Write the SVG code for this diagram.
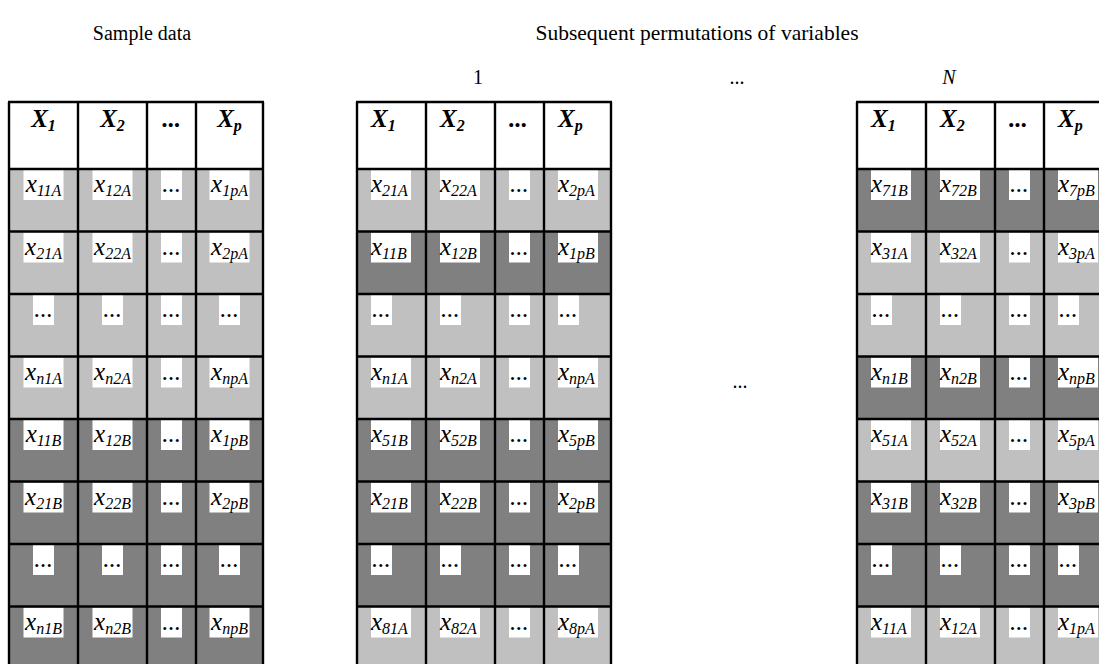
<svg xmlns="http://www.w3.org/2000/svg" width="1099" height="664" viewBox="0 0 1099 664">
<style>
.bg{fill:#ffffff}
.L{fill:#c0c0c0}
.D{fill:#808080}
.w{fill:#ffffff}
.m{font-family:"Liberation Serif",serif;font-style:italic;font-size:25px;fill:#000}
.s{font-size:16px}
.h{font-family:"Liberation Serif",serif;font-style:italic;font-weight:bold;font-size:25px;fill:#000}
.t{font-family:"Liberation Serif",serif;font-size:20px;fill:#000}
.c{text-anchor:middle}
.g{fill:none;stroke:#000;stroke-width:2.4}
</style>
<rect class="bg" x="0" y="0" width="1099" height="664"/>
<g id="titles">
<text class="t c" x="142" y="40">Sample data</text>
<text class="t c" x="697" y="40" style="font-size:21.5px">Subsequent permutations of variables</text>
<text class="t c" x="478" y="84">1</text>
<text class="t c" x="737" y="84">...</text>
<text class="t c" x="949" y="84" style="font-style:italic">N</text>
<text class="t c" x="740" y="388">...</text>
</g>
<g id="table1">
<g id="t1-fills">
<rect class="L" x="9" y="169" width="254" height="250"/>
<rect class="D" x="9" y="419" width="254" height="250"/>
</g>
<g id="t1-header">
<text class="h c" x="43.5" y="127">X<tspan class="s" dy="4">1</tspan></text>
<text class="h c" x="112.5" y="127">X<tspan class="s" dy="4">2</tspan></text>
<text class="h c" x="171.5" y="127">...</text>
<text class="h c" x="229.5" y="127">X<tspan class="s" dy="4">p</tspan></text>
</g>
<g id="t1-r1">
<rect class="w" x="23.5" y="170" width="40" height="30"/><text class="m c" x="43.5" y="192">x<tspan class="s" dy="4">11A</tspan></text>
<rect class="w" x="92.5" y="170" width="40" height="30"/><text class="m c" x="112.5" y="192">x<tspan class="s" dy="4">12A</tspan></text>
<rect class="w" x="161" y="170" width="21" height="30"/><text class="m c" x="171.5" y="192">...</text>
<rect class="w" x="209.5" y="170" width="40" height="30"/><text class="m c" x="229.5" y="192">x<tspan class="s" dy="4">1pA</tspan></text>
</g>
<g id="t1-r2">
<rect class="w" x="23.5" y="232.5" width="40" height="30"/><text class="m c" x="43.5" y="254.5">x<tspan class="s" dy="4">21A</tspan></text>
<rect class="w" x="92.5" y="232.5" width="40" height="30"/><text class="m c" x="112.5" y="254.5">x<tspan class="s" dy="4">22A</tspan></text>
<rect class="w" x="161" y="232.5" width="21" height="30"/><text class="m c" x="171.5" y="254.5">...</text>
<rect class="w" x="209.5" y="232.5" width="40" height="30"/><text class="m c" x="229.5" y="254.5">x<tspan class="s" dy="4">2pA</tspan></text>
</g>
<g id="t1-r3">
<rect class="w" x="33" y="295" width="21" height="30"/><text class="m c" x="43.5" y="317">...</text>
<rect class="w" x="102" y="295" width="21" height="30"/><text class="m c" x="112.5" y="317">...</text>
<rect class="w" x="161" y="295" width="21" height="30"/><text class="m c" x="171.5" y="317">...</text>
<rect class="w" x="219" y="295" width="21" height="30"/><text class="m c" x="229.5" y="317">...</text>
</g>
<g id="t1-r4">
<rect class="w" x="23.5" y="357.5" width="40" height="30"/><text class="m c" x="43.5" y="379.5">x<tspan class="s" dy="4">n1A</tspan></text>
<rect class="w" x="92.5" y="357.5" width="40" height="30"/><text class="m c" x="112.5" y="379.5">x<tspan class="s" dy="4">n2A</tspan></text>
<rect class="w" x="161" y="357.5" width="21" height="30"/><text class="m c" x="171.5" y="379.5">...</text>
<rect class="w" x="209.5" y="357.5" width="40" height="30"/><text class="m c" x="229.5" y="379.5">x<tspan class="s" dy="4">npA</tspan></text>
</g>
<g id="t1-r5">
<rect class="w" x="23.5" y="420" width="40" height="30"/><text class="m c" x="43.5" y="442">x<tspan class="s" dy="4">11B</tspan></text>
<rect class="w" x="92.5" y="420" width="40" height="30"/><text class="m c" x="112.5" y="442">x<tspan class="s" dy="4">12B</tspan></text>
<rect class="w" x="161" y="420" width="21" height="30"/><text class="m c" x="171.5" y="442">...</text>
<rect class="w" x="209.5" y="420" width="40" height="30"/><text class="m c" x="229.5" y="442">x<tspan class="s" dy="4">1pB</tspan></text>
</g>
<g id="t1-r6">
<rect class="w" x="23.5" y="482.5" width="40" height="30"/><text class="m c" x="43.5" y="504.5">x<tspan class="s" dy="4">21B</tspan></text>
<rect class="w" x="92.5" y="482.5" width="40" height="30"/><text class="m c" x="112.5" y="504.5">x<tspan class="s" dy="4">22B</tspan></text>
<rect class="w" x="161" y="482.5" width="21" height="30"/><text class="m c" x="171.5" y="504.5">...</text>
<rect class="w" x="209.5" y="482.5" width="40" height="30"/><text class="m c" x="229.5" y="504.5">x<tspan class="s" dy="4">2pB</tspan></text>
</g>
<g id="t1-r7">
<rect class="w" x="33" y="545" width="21" height="30"/><text class="m c" x="43.5" y="567">...</text>
<rect class="w" x="102" y="545" width="21" height="30"/><text class="m c" x="112.5" y="567">...</text>
<rect class="w" x="161" y="545" width="21" height="30"/><text class="m c" x="171.5" y="567">...</text>
<rect class="w" x="219" y="545" width="21" height="30"/><text class="m c" x="229.5" y="567">...</text>
</g>
<g id="t1-r8">
<rect class="w" x="23.5" y="607.5" width="40" height="30"/><text class="m c" x="43.5" y="629.5">x<tspan class="s" dy="4">n1B</tspan></text>
<rect class="w" x="92.5" y="607.5" width="40" height="30"/><text class="m c" x="112.5" y="629.5">x<tspan class="s" dy="4">n2B</tspan></text>
<rect class="w" x="161" y="607.5" width="21" height="30"/><text class="m c" x="171.5" y="629.5">...</text>
<rect class="w" x="209.5" y="607.5" width="40" height="30"/><text class="m c" x="229.5" y="629.5">x<tspan class="s" dy="4">npB</tspan></text>
</g>
<path class="g" d="M9 102V670M78 102V670M147 102V670M196 102V670M263 102V670M8 102H264M8 169H264M8 231.5H264M8 294H264M8 356.5H264M8 419H264M8 481.5H264M8 544H264M8 606.5H264"/>
</g>
<g id="table2">
<g id="t2-fills">
<rect class="L" x="357" y="169" width="254" height="62.5"/>
<rect class="D" x="357" y="231.5" width="254" height="62.5"/>
<rect class="L" x="357" y="294" width="254" height="125"/>
<rect class="D" x="357" y="419" width="254" height="187.5"/>
<rect class="L" x="357" y="606.5" width="254" height="63"/>
</g>
<g id="t2-header">
<text class="h" x="371" y="127">X<tspan class="s" dy="4">1</tspan></text>
<text class="h" x="440" y="127">X<tspan class="s" dy="4">2</tspan></text>
<text class="h" x="509" y="127">...</text>
<text class="h" x="558" y="127">X<tspan class="s" dy="4">p</tspan></text>
</g>
<g id="t2-r1">
<rect class="w" x="371" y="170" width="40" height="30"/><text class="m" x="371" y="192">x<tspan class="s" dy="4">21A</tspan></text>
<rect class="w" x="440" y="170" width="40" height="30"/><text class="m" x="440" y="192">x<tspan class="s" dy="4">22A</tspan></text>
<rect class="w" x="509" y="170" width="21" height="30"/><text class="m" x="510" y="192">...</text>
<rect class="w" x="558" y="170" width="40" height="30"/><text class="m" x="558" y="192">x<tspan class="s" dy="4">2pA</tspan></text>
</g>
<g id="t2-r2">
<rect class="w" x="371" y="232.5" width="40" height="30"/><text class="m" x="371" y="254.5">x<tspan class="s" dy="4">11B</tspan></text>
<rect class="w" x="440" y="232.5" width="40" height="30"/><text class="m" x="440" y="254.5">x<tspan class="s" dy="4">12B</tspan></text>
<rect class="w" x="509" y="232.5" width="21" height="30"/><text class="m" x="510" y="254.5">...</text>
<rect class="w" x="558" y="232.5" width="40" height="30"/><text class="m" x="558" y="254.5">x<tspan class="s" dy="4">1pB</tspan></text>
</g>
<g id="t2-r3">
<rect class="w" x="371" y="295" width="21" height="30"/><text class="m" x="372" y="317">...</text>
<rect class="w" x="440" y="295" width="21" height="30"/><text class="m" x="441" y="317">...</text>
<rect class="w" x="509" y="295" width="21" height="30"/><text class="m" x="510" y="317">...</text>
<rect class="w" x="558" y="295" width="21" height="30"/><text class="m" x="559" y="317">...</text>
</g>
<g id="t2-r4">
<rect class="w" x="371" y="357.5" width="40" height="30"/><text class="m" x="371" y="379.5">x<tspan class="s" dy="4">n1A</tspan></text>
<rect class="w" x="440" y="357.5" width="40" height="30"/><text class="m" x="440" y="379.5">x<tspan class="s" dy="4">n2A</tspan></text>
<rect class="w" x="509" y="357.5" width="21" height="30"/><text class="m" x="510" y="379.5">...</text>
<rect class="w" x="558" y="357.5" width="40" height="30"/><text class="m" x="558" y="379.5">x<tspan class="s" dy="4">npA</tspan></text>
</g>
<g id="t2-r5">
<rect class="w" x="371" y="420" width="40" height="30"/><text class="m" x="371" y="442">x<tspan class="s" dy="4">51B</tspan></text>
<rect class="w" x="440" y="420" width="40" height="30"/><text class="m" x="440" y="442">x<tspan class="s" dy="4">52B</tspan></text>
<rect class="w" x="509" y="420" width="21" height="30"/><text class="m" x="510" y="442">...</text>
<rect class="w" x="558" y="420" width="40" height="30"/><text class="m" x="558" y="442">x<tspan class="s" dy="4">5pB</tspan></text>
</g>
<g id="t2-r6">
<rect class="w" x="371" y="482.5" width="40" height="30"/><text class="m" x="371" y="504.5">x<tspan class="s" dy="4">21B</tspan></text>
<rect class="w" x="440" y="482.5" width="40" height="30"/><text class="m" x="440" y="504.5">x<tspan class="s" dy="4">22B</tspan></text>
<rect class="w" x="509" y="482.5" width="21" height="30"/><text class="m" x="510" y="504.5">...</text>
<rect class="w" x="558" y="482.5" width="40" height="30"/><text class="m" x="558" y="504.5">x<tspan class="s" dy="4">2pB</tspan></text>
</g>
<g id="t2-r7">
<rect class="w" x="371" y="545" width="21" height="30"/><text class="m" x="372" y="567">...</text>
<rect class="w" x="440" y="545" width="21" height="30"/><text class="m" x="441" y="567">...</text>
<rect class="w" x="509" y="545" width="21" height="30"/><text class="m" x="510" y="567">...</text>
<rect class="w" x="558" y="545" width="21" height="30"/><text class="m" x="559" y="567">...</text>
</g>
<g id="t2-r8">
<rect class="w" x="371" y="607.5" width="40" height="30"/><text class="m" x="371" y="629.5">x<tspan class="s" dy="4">81A</tspan></text>
<rect class="w" x="440" y="607.5" width="40" height="30"/><text class="m" x="440" y="629.5">x<tspan class="s" dy="4">82A</tspan></text>
<rect class="w" x="509" y="607.5" width="21" height="30"/><text class="m" x="510" y="629.5">...</text>
<rect class="w" x="558" y="607.5" width="40" height="30"/><text class="m" x="558" y="629.5">x<tspan class="s" dy="4">8pA</tspan></text>
</g>
<path class="g" d="M357 102V670M426 102V670M495 102V670M544 102V670M611 102V670M356 102H612M356 169H612M356 231.5H612M356 294H612M356 356.5H612M356 419H612M356 481.5H612M356 544H612M356 606.5H612"/>
</g>
<g id="table3">
<g id="t3-fills">
<rect class="D" x="857" y="169" width="254" height="62.5"/>
<rect class="L" x="857" y="231.5" width="254" height="125"/>
<rect class="D" x="857" y="356.5" width="254" height="62.5"/>
<rect class="L" x="857" y="419" width="254" height="62.5"/>
<rect class="D" x="857" y="481.5" width="254" height="125"/>
<rect class="L" x="857" y="606.5" width="254" height="63"/>
</g>
<g id="t3-header">
<text class="h" x="871" y="127">X<tspan class="s" dy="4">1</tspan></text>
<text class="h" x="940" y="127">X<tspan class="s" dy="4">2</tspan></text>
<text class="h" x="1009" y="127">...</text>
<text class="h" x="1058" y="127">X<tspan class="s" dy="4">p</tspan></text>
</g>
<g id="t3-r1">
<rect class="w" x="871" y="170" width="40" height="30"/><text class="m" x="871" y="192">x<tspan class="s" dy="4">71B</tspan></text>
<rect class="w" x="940" y="170" width="40" height="30"/><text class="m" x="940" y="192">x<tspan class="s" dy="4">72B</tspan></text>
<rect class="w" x="1009" y="170" width="21" height="30"/><text class="m" x="1010" y="192">...</text>
<rect class="w" x="1058" y="170" width="40" height="30"/><text class="m" x="1058" y="192">x<tspan class="s" dy="4">7pB</tspan></text>
</g>
<g id="t3-r2">
<rect class="w" x="871" y="232.5" width="40" height="30"/><text class="m" x="871" y="254.5">x<tspan class="s" dy="4">31A</tspan></text>
<rect class="w" x="940" y="232.5" width="40" height="30"/><text class="m" x="940" y="254.5">x<tspan class="s" dy="4">32A</tspan></text>
<rect class="w" x="1009" y="232.5" width="21" height="30"/><text class="m" x="1010" y="254.5">...</text>
<rect class="w" x="1058" y="232.5" width="40" height="30"/><text class="m" x="1058" y="254.5">x<tspan class="s" dy="4">3pA</tspan></text>
</g>
<g id="t3-r3">
<rect class="w" x="871" y="295" width="21" height="30"/><text class="m" x="872" y="317">...</text>
<rect class="w" x="940" y="295" width="21" height="30"/><text class="m" x="941" y="317">...</text>
<rect class="w" x="1009" y="295" width="21" height="30"/><text class="m" x="1010" y="317">...</text>
<rect class="w" x="1058" y="295" width="21" height="30"/><text class="m" x="1059" y="317">...</text>
</g>
<g id="t3-r4">
<rect class="w" x="871" y="357.5" width="40" height="30"/><text class="m" x="871" y="379.5">x<tspan class="s" dy="4">n1B</tspan></text>
<rect class="w" x="940" y="357.5" width="40" height="30"/><text class="m" x="940" y="379.5">x<tspan class="s" dy="4">n2B</tspan></text>
<rect class="w" x="1009" y="357.5" width="21" height="30"/><text class="m" x="1010" y="379.5">...</text>
<rect class="w" x="1058" y="357.5" width="40" height="30"/><text class="m" x="1058" y="379.5">x<tspan class="s" dy="4">npB</tspan></text>
</g>
<g id="t3-r5">
<rect class="w" x="871" y="420" width="40" height="30"/><text class="m" x="871" y="442">x<tspan class="s" dy="4">51A</tspan></text>
<rect class="w" x="940" y="420" width="40" height="30"/><text class="m" x="940" y="442">x<tspan class="s" dy="4">52A</tspan></text>
<rect class="w" x="1009" y="420" width="21" height="30"/><text class="m" x="1010" y="442">...</text>
<rect class="w" x="1058" y="420" width="40" height="30"/><text class="m" x="1058" y="442">x<tspan class="s" dy="4">5pA</tspan></text>
</g>
<g id="t3-r6">
<rect class="w" x="871" y="482.5" width="40" height="30"/><text class="m" x="871" y="504.5">x<tspan class="s" dy="4">31B</tspan></text>
<rect class="w" x="940" y="482.5" width="40" height="30"/><text class="m" x="940" y="504.5">x<tspan class="s" dy="4">32B</tspan></text>
<rect class="w" x="1009" y="482.5" width="21" height="30"/><text class="m" x="1010" y="504.5">...</text>
<rect class="w" x="1058" y="482.5" width="40" height="30"/><text class="m" x="1058" y="504.5">x<tspan class="s" dy="4">3pB</tspan></text>
</g>
<g id="t3-r7">
<rect class="w" x="871" y="545" width="21" height="30"/><text class="m" x="872" y="567">...</text>
<rect class="w" x="940" y="545" width="21" height="30"/><text class="m" x="941" y="567">...</text>
<rect class="w" x="1009" y="545" width="21" height="30"/><text class="m" x="1010" y="567">...</text>
<rect class="w" x="1058" y="545" width="21" height="30"/><text class="m" x="1059" y="567">...</text>
</g>
<g id="t3-r8">
<rect class="w" x="871" y="607.5" width="40" height="30"/><text class="m" x="871" y="629.5">x<tspan class="s" dy="4">11A</tspan></text>
<rect class="w" x="940" y="607.5" width="40" height="30"/><text class="m" x="940" y="629.5">x<tspan class="s" dy="4">12A</tspan></text>
<rect class="w" x="1009" y="607.5" width="21" height="30"/><text class="m" x="1010" y="629.5">...</text>
<rect class="w" x="1058" y="607.5" width="40" height="30"/><text class="m" x="1058" y="629.5">x<tspan class="s" dy="4">1pA</tspan></text>
</g>
<path class="g" d="M857 102V670M926 102V670M995 102V670M1044 102V670M1111 102V670M856 102H1112M856 169H1112M856 231.5H1112M856 294H1112M856 356.5H1112M856 419H1112M856 481.5H1112M856 544H1112M856 606.5H1112"/>
</g>
</svg>
